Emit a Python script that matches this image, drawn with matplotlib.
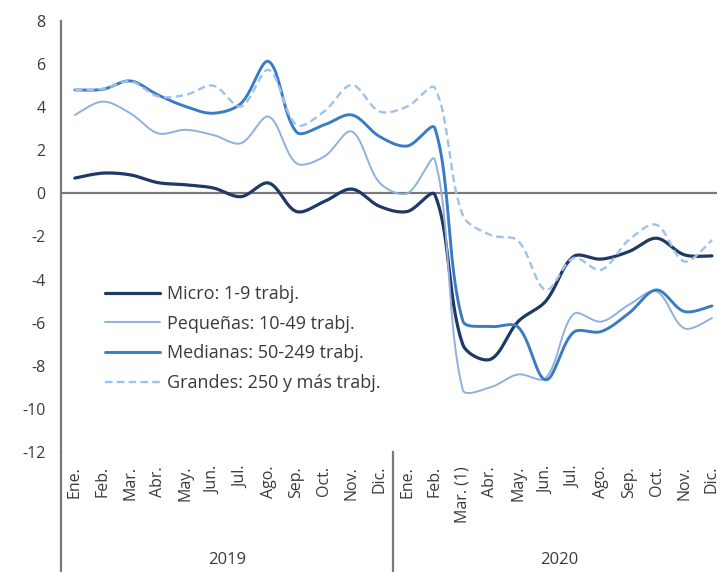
import numpy as np
import matplotlib
matplotlib.use("Agg")
import matplotlib.pyplot as plt
from matplotlib.transforms import blended_transform_factory

plt.rcParams['font.family'] = ['Open Sans', 'DejaVu Sans']

months_2019 = ["Ene.", "Feb.", "Mar.", "Abr.", "May.", "Jun.", "Jul.", "Ago.", "Sep.", "Oct.", "Nov.", "Dic."]
months_2020 = ["Ene.", "Feb.", "Mar. (1)", "Abr.", "May.", "Jun.", "Jul.", "Ago.", "Sep.", "Oct.", "Nov.", "Dic."]
years = ["2019", "2020"]

micro = [0.71, 0.94, 0.86, 0.50, 0.40, 0.25, -0.15, 0.48, -0.84, -0.38, 0.20, -0.60,
         -0.84, -0.07, -7.00, -7.70, -5.95, -5.00, -2.93, -3.05, -2.70, -2.08, -2.85, -2.90]
pequenas = [3.64, 4.26, 3.72, 2.79, 2.95, 2.71, 2.33, 3.56, 1.40, 1.71, 2.87, 0.50,
            0.00, 1.55, -9.10, -9.00, -8.40, -8.57, -5.60, -5.95, -5.17, -4.55, -6.26, -5.79]
medianas = [4.80, 4.83, 5.22, 4.57, 4.03, 3.72, 4.18, 6.12, 2.85, 3.18, 3.64, 2.64,
            2.20, 3.02, -5.90, -6.18, -6.20, -8.65, -6.45, -6.41, -5.56, -4.48, -5.48, -5.22]
grandes = [4.80, 4.85, 5.20, 4.50, 4.57, 5.00, 4.03, 5.73, 3.18, 3.80, 5.03, 3.80,
           4.03, 4.88, -1.00, -1.93, -2.20, -4.48, -3.00, -3.55, -2.16, -1.46, -3.16, -2.16]

labels = ["Micro: 1-9 trabj.", "Pequeñas: 10-49 trabj.", "Medianas: 50-249 trabj.",
          "Grandes: 250 y más trabj."]
colors = ["#1f3864", "#8fb0e0", "#3a7cc2", "#9fc2ea"]

W, H = 717, 572
left, right, top, bottom = 61, 61 + 24 * 27.7, 21, 452
XS = 27.7               # px per category
YS = (bottom - top) / 20.0  # px per y unit


def smooth(y, n=24):
    """Excel-like smoothed line through the data points (Bezier with
    distance-weighted tangents computed in screen space)."""
    y = np.asarray(y, float)
    x = np.arange(len(y), dtype=float)
    P = np.column_stack([x * XS, y * YS])
    m = len(P)
    T = np.zeros_like(P)
    for i in range(m):
        a = P[max(i - 1, 0)]
        b = P[min(i + 1, m - 1)]
        T[i] = b - a
    d = np.linalg.norm(np.diff(P, axis=0), axis=1)
    out = []
    for i in range(m - 1):
        dp = d[i - 1] if i > 0 else d[i]
        dn = d[i + 1] if i + 1 < m - 1 else d[i]
        c1 = P[i] + T[i] * d[i] / (dp + d[i]) / 3.0
        c2 = P[i + 1] - T[i + 1] * d[i] / (d[i] + dn) / 3.0
        t = np.linspace(0, 1, n, endpoint=False)[:, None]
        seg = ((1 - t) ** 3) * P[i] + 3 * ((1 - t) ** 2) * t * c1 + 3 * (1 - t) * t ** 2 * c2 + t ** 3 * P[i + 1]
        out.append(seg)
    out.append(P[-1:])
    out = np.vstack(out)
    return out[:, 0] / XS, out[:, 1] / YS


fig = plt.figure(figsize=(W / 100, H / 100), dpi=100)
ax = fig.add_axes([left / W, 1 - bottom / H, (right - left) / W, (bottom - top) / H])

n = len(micro)
ax.set_xlim(-0.5, n - 0.5)
ax.set_ylim(-12, 8)

ax.axhline(0, color="#7a7a7a", lw=1.6, zorder=1)

series = [micro, pequenas, medianas, grandes]
styles = [dict(lw=2.3, ls="-"), dict(lw=1.4, ls="-"), dict(lw=2.1, ls="-"),
          dict(lw=1.7, ls=(0, (3.2, 1.8)))]
handles = []
for vals, lab, col, st in zip(series, labels, colors, styles):
    xs, ys = smooth(vals)
    h, = ax.plot(xs, ys, color=col, label=lab, zorder=3, solid_capstyle="round", **st)
    handles.append(h)

for s in ["top", "right", "bottom"]:
    ax.spines[s].set_visible(False)
ax.spines["left"].set_color("#7a7a7a")
ax.spines["left"].set_linewidth(1.6)

ax.set_yticks(np.arange(-12, 9, 2))
ax.set_yticklabels([str(v) for v in range(-12, 9, 2)])
ax.tick_params(axis="y", length=0, pad=11, labelsize=11.5, labelcolor="#3a3a3a")

ax.set_xticks(np.arange(n))
ax.set_xticklabels(months_2019 + months_2020, rotation=90)
ax.tick_params(axis="x", length=0, pad=10, labelsize=11.5, labelcolor="#3a3a3a")

ext = -(H - bottom) / (bottom - top)
ax.plot([0, 0], [0, ext], transform=ax.transAxes, color="#7a7a7a", lw=1.6, clip_on=False)
trans = blended_transform_factory(ax.transData, ax.transAxes)
ax.plot([11.5, 11.5], [0, ext], transform=trans, color="#7a7a7a", lw=1.6, clip_on=False)

year_y = -(560 - bottom) / (bottom - top)
ax.text(5.5, year_y, years[0], transform=trans, ha="center", va="center",
        fontsize=12, color="#3a3a3a")
ax.text(17.5, year_y, years[1], transform=trans, ha="center", va="center",
        fontsize=12, color="#3a3a3a")

leg = ax.legend(handles=handles, loc="upper left",
                bbox_to_anchor=((105 - left) / (right - left), (bottom - 285) / (bottom - top)),
                frameon=False, fontsize=13, handlelength=3.05, handletextpad=0.39,
                labelspacing=0.65, borderpad=0, borderaxespad=0)
for t in leg.get_texts():
    t.set_color("#3a3a3a")

fig.savefig("out.png", dpi=100)
